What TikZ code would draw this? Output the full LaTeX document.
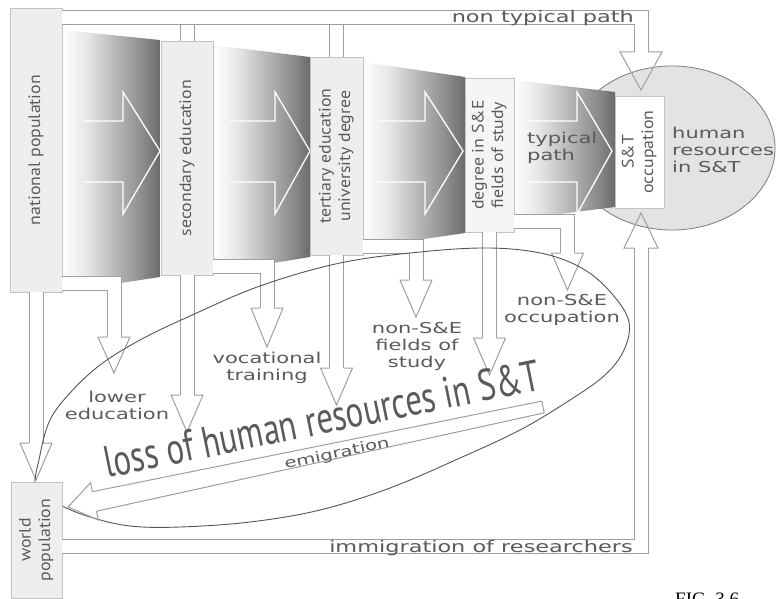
\documentclass[tikz,border=0pt]{standalone}
\usepackage{fontspec}
\usepackage{graphicx}
\usetikzlibrary{calc}
\newfontfamily\labelfont[FakeStretch=1.4]{DejaVu Sans}
\newfontfamily\boxfont[FakeStretch=1.08]{PT Sans}
\newfontfamily\bigfont{PT Sans}
\newfontfamily\figfont{Liberation Serif}
\definecolor{inkgray}{HTML}{5A5A5A}
\definecolor{bandgray}{HTML}{9E9E9E}
\definecolor{boxfill}{HTML}{EEEEEE}
\definecolor{boxline}{HTML}{C2C2C2}
\definecolor{hrfill}{HTML}{E3E3E3}
\definecolor{hrline}{HTML}{7A7A7A}
\definecolor{loopgray}{HTML}{555555}
\pgfdeclarehorizontalshading{funnelshade}{100bp}{color(0bp)=(white); color(25bp)=(white); color(38bp)=(black!10); color(52bp)=(black!28); color(66bp)=(black!45); color(75bp)=(black!58); color(100bp)=(black!58)}
\tikzset{
    stage/.style={draw=boxline,fill=boxfill,line width=0.7pt,inner sep=0pt,text=inkgray,font=\boxfont\fontsize{16.5}{19.5}\selectfont},
    funnel/.style={shading=funnelshade},
    hrzone/.style={fill=hrfill,draw=hrline,line width=0.8pt},
    band/.style={draw=bandgray,line width=1pt,double=white,double distance=13pt},
    bandhead/.style={draw=bandgray,line width=1pt},
    flow/.style={draw=white,line width=1.3pt},
    lossloop/.style={draw=loopgray,line width=0.9pt},
    note/.style={text=inkgray,font=\labelfont\fontsize{15}{17}\selectfont,align=center,inner sep=0pt},
    bigtext/.style={text=inkgray,font=\bigfont\fontsize{44}{48}\selectfont,inner sep=0pt}
}
\newcommand{\downhead}[4]{\draw[bandhead] ({#1-7},#2) -- ({#1-#4},#2) -- (#1,#3) -- ({#1+#4},#2) -- ({#1+7},#2);}
\newcommand{\flowarrow}[3]{\draw[flow] (#1,121) -- (#2,121) -- (#2,92) -- (#3,151) -- (#2,214) -- (#2,182) -- (#1,182);}

\begin{document}
\begin{tikzpicture}[x=1pt,y=-1pt]
\useasboundingbox (0,0) rectangle (776,599);
\filldraw[hrzone] (672,148) ellipse [x radius=103, y radius=82];
\shade[funnel] (62,30) -- (160,40) -- (160,277) -- (62,292) -- cycle;
\shade[funnel] (213,45) -- (310,57) -- (310,257) -- (213,273) -- cycle;
\shade[funnel] (363,62) -- (465,77) -- (465,233) -- (363,248) -- cycle;
\shade[funnel] (513,80) -- (615,92) -- (615,207) -- (513,220) -- cycle;
\flowarrow{83}{123}{160}
\flowarrow{230}{275}{310}
\flowarrow{378}{425}{463}
\flowarrow{528}{577}{612}
\node[stage,minimum width=52pt,minimum height=284pt] (natpop) at (36,150) {\rotatebox{90}{national population}};
\node[stage,minimum width=52pt,minimum height=234pt] (secedu) at (187,158) {\rotatebox{90}{secondary education}};
\node[stage,minimum width=53pt,minimum height=198pt] (tertedu) at (336.5,156) {\rotatebox{90}{\begin{tabular}{@{}c@{}}tertiary education\\university degree\end{tabular}}};
\node[stage,fill=boxfill!60!white,minimum width=49pt,minimum height=154pt] (degree) at (489.5,155) {\rotatebox{90}{\begin{tabular}{@{}c@{}}degree in S\&E\\fields of study\end{tabular}}};
\node[stage,fill=white,minimum width=49pt,minimum height=112pt] (stocc) at (639.5,152) {\rotatebox{90}{\begin{tabular}{@{}c@{}}S\&T\\occupation\end{tabular}}};
\draw[band] (secedu.north) -- (secedu.north |- 0,24);
\draw[band] (tertedu.north) -- (tertedu.north |- 0,24);
\draw[band] (natpop.east |- 0,17.5) -- (641,17.5) -- (641,52);
\downhead{641}{52}{90}{21}
\draw[band] (secedu.south) -- (secedu.south |- 0,395);
\downhead{187}{395}{432}{16}
\draw[band] (tertedu.south) -- (tertedu.south |- 0,368);
\downhead{336.5}{368}{405}{16}
\draw[band] (natpop.east |- 0,283) -- (114,283) -- (114,337);
\downhead{114}{337}{373}{16}
\draw[band] (secedu.east |- 0,266.5) -- (267,266.5) -- (267,308);
\downhead{267}{308}{347}{16}
\draw[band] (tertedu.east |- 0,246.5) -- (416,246.5) -- (416,280);
\downhead{416}{280}{317}{16}
\draw[band] (degree.south) -- (degree.south |- 0,338);
\downhead{489.5}{338}{375}{16}
\draw[band] (degree.east |- 0,221) -- (567.5,221) -- (567.5,253);
\downhead{567.5}{253}{290}{16}
\draw[band] (natpop.south) -- (natpop.south |- 0,443);
\downhead{36}{443}{480}{16}
\draw[lossloop] plot[smooth cycle,tension=0.6] coordinates {(36,490) (40,455) (50,420) (70,393) (100,365) (140,340) (190,316) (260,286) (340,263) (420,252) (490,248) (545,254) (585,270) (613,295) (629,322) (624,350) (605,375) (570,400) (520,430) (460,458) (390,488) (320,510) (250,522) (180,527) (130,526) (90,517) (60,505)};
\coordinate (emifrom) at (543,407);
\coordinate (emito) at (68,507);
\coordinate (emibase) at ($(emito)!27pt!(emifrom)$);
\draw[bandhead] ($(emifrom)!6pt!90:(emito)$) -- ($(emibase)!10pt!-90:(emifrom)$) -- ($(emibase)!19pt!-90:(emifrom)$) -- (emito) -- ($(emibase)!19pt!90:(emifrom)$) -- ($(emibase)!10pt!90:(emifrom)$) -- ($(emifrom)!6pt!-90:(emito)$) -- cycle;
\node[stage,minimum width=51pt,minimum height=116pt] (worldpop) at (36.5,540) {\rotatebox{90}{\begin{tabular}{@{}c@{}}world\\population\end{tabular}}};
\draw[band] (worldpop.east |- 0,546) -- (641,546) -- (641,248);
\downhead{641}{248}{213}{17}
\node[bigtext,anchor=base west,rotate=11.5] (losstext) at (107,478) {\resizebox{444pt}{\height}{loss of human resources in S\&T}};
\node[note,rotate=11.9,font=\labelfont\fontsize{14}{16}\selectfont] (emig) at (337,454) {emigration};
\node[note] (lowered) at (117,405) {lower\\education};
\node[note] (vocational) at (267,368) {vocational\\training};
\node[note] (nonsefield) at (417,346) {non-S\&E\\fields of\\study};
\node[note] (nonseocc) at (562,310) {non-S\&E\\occupation};
\node[note,anchor=west,align=left] (typical) at (527,148) {typical\\path};
\node[note,anchor=west,align=left] (hrtext) at (672,150) {human\\resources\\in S\&T};
\node[note,anchor=base east,font=\labelfont\fontsize{16}{18}\selectfont] (nontypical) at (634,23) {non typical path};
\node[note,anchor=base east,font=\labelfont\fontsize{16}{18}\selectfont] (immig) at (633,552) {immigration of researchers};
\node[anchor=north west,inner sep=0pt,font=\figfont\fontsize{19}{21}\selectfont] (figlabel) at (675,593) {FIG. 3.6};
\end{tikzpicture}
\end{document}
